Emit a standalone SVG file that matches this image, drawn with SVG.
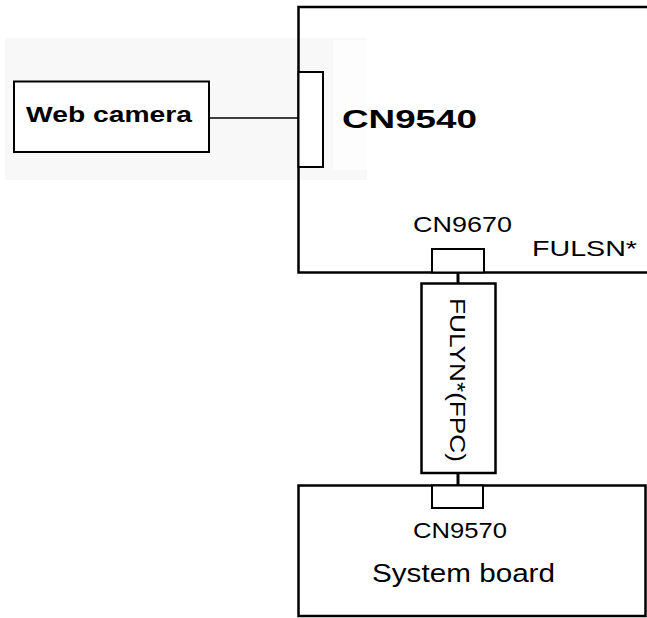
<svg xmlns="http://www.w3.org/2000/svg" width="647" height="618" viewBox="0 0 647 618">
<style>
.box{fill:#fff;stroke:#000;stroke-width:2.5}
.open{fill:none;stroke:#000;stroke-width:2.5}
.thin{fill:#fff;stroke:#000;stroke-width:2}
.line{stroke:#000;fill:none}
.t{font-family:"Liberation Sans",Arial,sans-serif;fill:#000}
.b{font-weight:bold}
</style>
<rect x="5" y="38" width="362" height="142" fill="#f8f8f8"/>
<rect x="333" y="40" width="34" height="130" fill="#fdfdfd"/>
<g id="fulsn">
<rect x="298.5" y="7" width="360" height="265.5" class="open"/>
<text class="t" x="532" y="256" font-size="22" textLength="105" lengthAdjust="spacingAndGlyphs">FULSN*</text>
</g>
<g id="webcam">
<rect x="14" y="81.5" width="195" height="70.5" class="thin"/>
<text class="t b" x="26" y="122" font-size="22" textLength="166" lengthAdjust="spacingAndGlyphs">Web camera</text>
</g>
<g id="cn9540">
<rect x="298.5" y="72" width="24.5" height="95" class="thin"/>
<text class="t b" x="342" y="128" font-size="25" textLength="135" lengthAdjust="spacingAndGlyphs">CN9540</text>
</g>
<g id="cn9670">
<rect x="432" y="249" width="52" height="23.5" class="thin"/>
<text class="t" x="413" y="232" font-size="22" textLength="99" lengthAdjust="spacingAndGlyphs">CN9670</text>
</g>
<g id="fpc">
<rect x="421.5" y="283.5" width="74" height="189.5" class="box"/>
<text class="t" transform="translate(458,380) rotate(90)" x="0" y="8" font-size="22" text-anchor="middle" textLength="164" lengthAdjust="spacingAndGlyphs">FULYN*(FPC)</text>
</g>
<g id="sysboard">
<rect x="298.5" y="485.5" width="347" height="130.5" class="box"/>
<text class="t" x="372" y="582" font-size="26" textLength="183" lengthAdjust="spacingAndGlyphs">System board</text>
</g>
<g id="cn9570">
<rect x="432" y="485.5" width="51" height="22.5" class="thin"/>
<text class="t" x="413" y="538" font-size="22" textLength="94" lengthAdjust="spacingAndGlyphs">CN9570</text>
</g>
<g id="connectors">
<line x1="209" y1="118" x2="298" y2="118" class="line" stroke-width="1.5"/>
<line x1="458" y1="273" x2="458" y2="283" class="line" stroke-width="3"/>
<line x1="458" y1="473" x2="458" y2="485" class="line" stroke-width="3"/>
</g>
</svg>
